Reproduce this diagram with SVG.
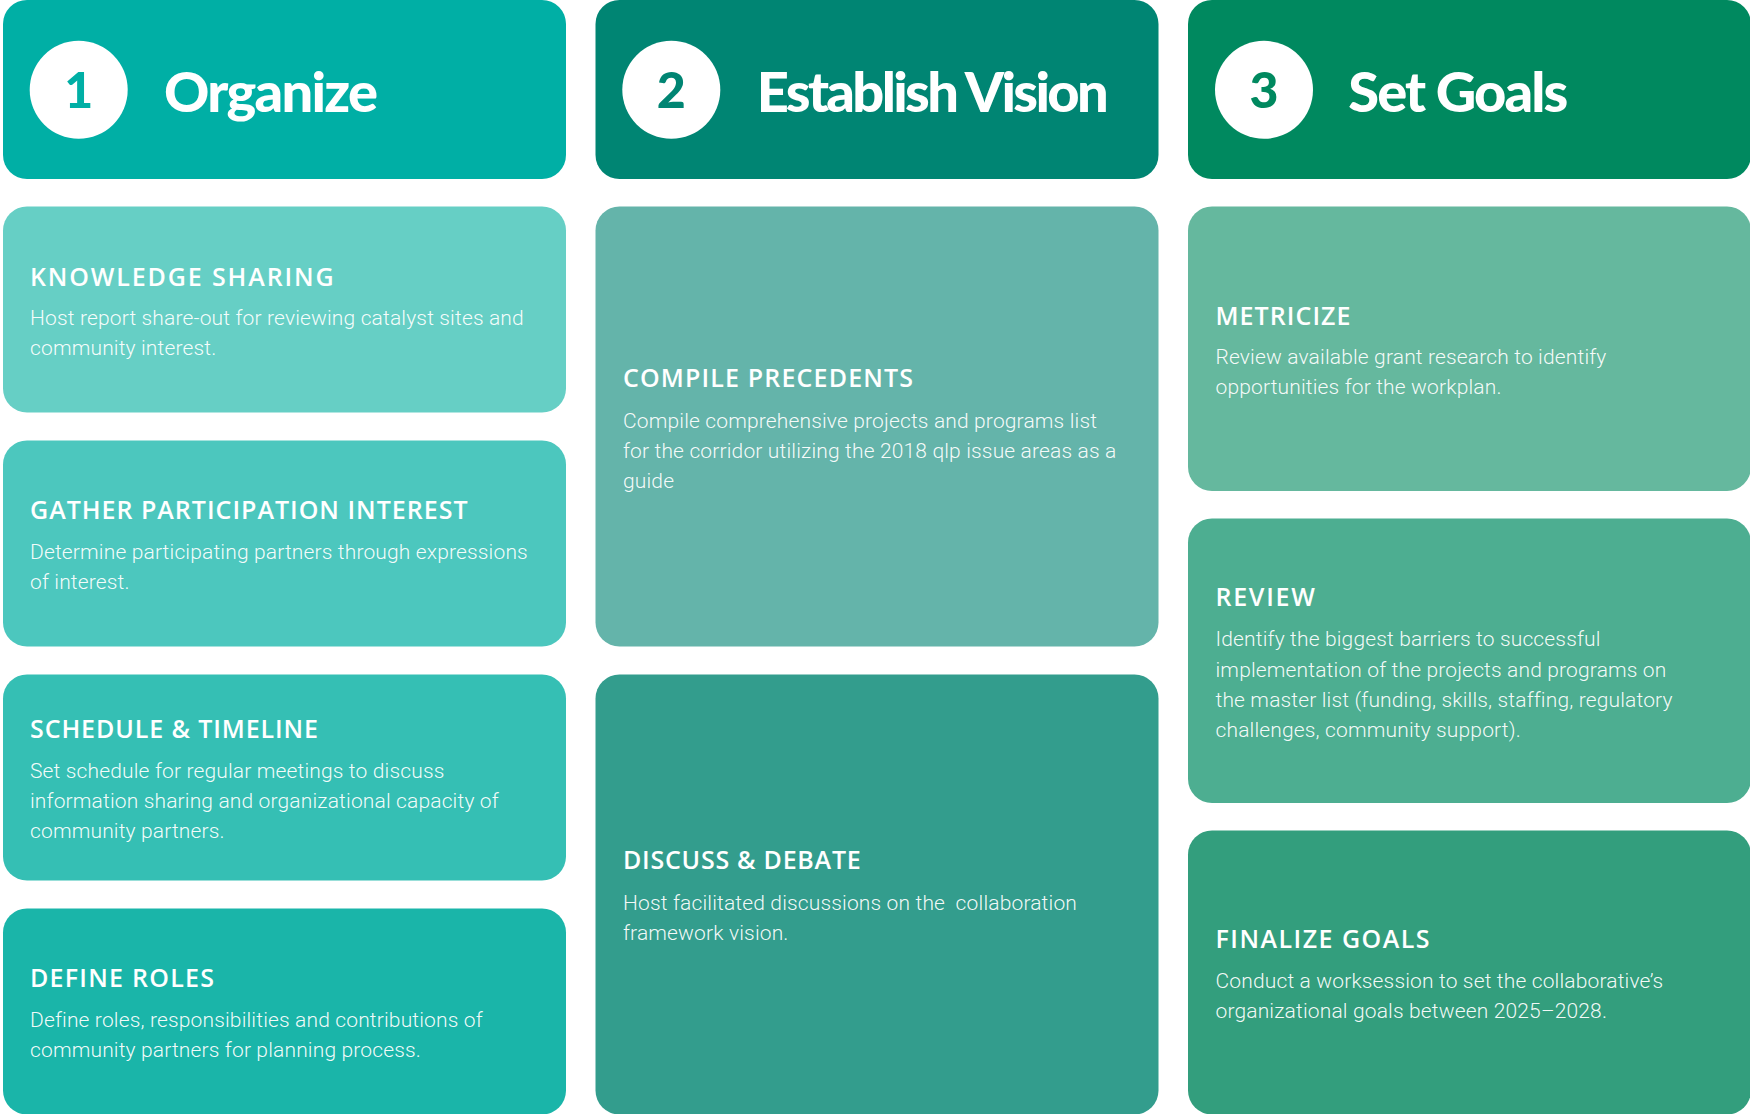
<svg xmlns="http://www.w3.org/2000/svg" width="1750" height="1114" viewBox="0 0 1750 1114">
<style>
.hdr{font-family:"Lato","DejaVu Sans",sans-serif;font-weight:900;font-size:56px;fill:#ffffff}
.num{font-family:"Lato","DejaVu Sans",sans-serif;font-weight:900;font-size:50px;text-anchor:middle}
.ttl{font-family:"Open Sans","DejaVu Sans",sans-serif;font-weight:600;font-size:25px;fill:#ffffff}
.body{font-family:"Roboto","Liberation Sans",sans-serif;font-weight:300;font-size:21px;letter-spacing:0.15px;fill:#ffffff;fill-opacity:0.95}
</style>
<rect width="1750" height="1114" fill="#ffffff"/>
<g id="header-1">
<rect x="3" y="0" width="563" height="179" rx="24" fill="#00AFA5"/>
<circle cx="78.7" cy="89.8" r="49" fill="#ffffff"/>
<text class="num" x="78.7" y="108" fill="#00AFA5">1</text>
<text class="hdr" x="164" y="111.6" textLength="214">Organize</text>
</g>
<g id="header-2">
<rect x="595.5" y="0" width="563" height="179" rx="24" fill="#008573"/>
<circle cx="671.3" cy="89.8" r="49" fill="#ffffff"/>
<text class="num" x="671.3" y="108" fill="#008573">2</text>
<text class="hdr" x="756.7" y="111.6" textLength="352">Establish Vision</text>
</g>
<g id="header-3">
<rect x="1188" y="0" width="563" height="179" rx="24" fill="#00895F"/>
<circle cx="1264" cy="89.8" r="49" fill="#ffffff"/>
<text class="num" x="1264" y="108" fill="#00895F">3</text>
<text class="hdr" x="1348.3" y="111.6" textLength="220">Set Goals</text>
</g>
<g id="knowledge-sharing">
<rect x="3" y="206.5" width="563" height="206" rx="24" fill="#66CFC5"/>
<text class="ttl" x="30" y="285.5" textLength="303.6">KNOWLEDGE SHARING</text>
<text class="body" x="30" y="325">Host report share-out for reviewing catalyst sites and</text>
<text class="body" x="30" y="355">community interest.</text>
</g>
<g id="gather-participation-interest">
<rect x="3" y="440.5" width="563" height="206" rx="24" fill="#4CC7BE"/>
<text class="ttl" x="30" y="519" textLength="437.5">GATHER PARTICIPATION INTEREST</text>
<text class="body" x="30" y="559.3">Determine participating partners through expressions</text>
<text class="body" x="30" y="589.4">of interest.</text>
</g>
<g id="schedule-timeline">
<rect x="3" y="674.5" width="563" height="206" rx="24" fill="#35BFB4"/>
<text class="ttl" x="30" y="737.7" textLength="288">SCHEDULE &amp; TIMELINE</text>
<text class="body" x="30" y="778">Set schedule for regular meetings to discuss</text>
<text class="body" x="30" y="808.2">information sharing and organizational capacity of</text>
<text class="body" x="30" y="838.3">community partners.</text>
</g>
<g id="define-roles">
<rect x="3" y="908.5" width="563" height="206" rx="24" fill="#1AB5A9"/>
<text class="ttl" x="30" y="986.6" textLength="184">DEFINE ROLES</text>
<text class="body" x="30" y="1027">Define roles, responsibilities and contributions of</text>
<text class="body" x="30" y="1057">community partners for planning process.</text>
</g>
<g id="compile-precedents">
<rect x="595.5" y="206.5" width="563" height="440" rx="24" fill="#64B4AA"/>
<text class="ttl" x="623" y="387.3" textLength="290">COMPILE PRECEDENTS</text>
<text class="body" x="623" y="427.6">Compile comprehensive projects and programs list</text>
<text class="body" x="623" y="457.7">for the corridor utilizing the 2018 qlp issue areas as a</text>
<text class="body" x="623" y="487.9">guide</text>
</g>
<g id="discuss-debate">
<rect x="595.5" y="674.5" width="563" height="440" rx="24" fill="#339D8D"/>
<text class="ttl" x="623" y="869.4" textLength="237.7">DISCUSS &amp; DEBATE</text>
<text class="body" x="623" y="909.7" xml:space="preserve">Host facilitated discussions on the  collaboration</text>
<text class="body" x="623" y="939.9">framework vision.</text>
</g>
<g id="metricize">
<rect x="1188" y="206.5" width="563" height="284.5" rx="24" fill="#65B89E"/>
<text class="ttl" x="1215.5" y="324.8" textLength="135">METRICIZE</text>
<text class="body" x="1215.5" y="364">Review available grant research to identify</text>
<text class="body" x="1215.5" y="394">opportunities for the workplan.</text>
</g>
<g id="review">
<rect x="1188" y="518.5" width="563" height="284.5" rx="24" fill="#4DAE91"/>
<text class="ttl" x="1215.5" y="606" textLength="99.3">REVIEW</text>
<text class="body" x="1215.5" y="646.3">Identify the biggest barriers to successful</text>
<text class="body" x="1215.5" y="676.5">implementation of the projects and programs on</text>
<text class="body" x="1215.5" y="706.6">the master list (funding, skills, staffing, regulatory</text>
<text class="body" x="1215.5" y="736.7">challenges, community support).</text>
</g>
<g id="finalize-goals">
<rect x="1188" y="830.5" width="563" height="284" rx="24" fill="#339E7D"/>
<text class="ttl" x="1215.5" y="947.6" textLength="214">FINALIZE GOALS</text>
<text class="body" x="1215.5" y="987.9">Conduct a worksession to set the collaborative’s</text>
<text class="body" x="1215.5" y="1018">organizational goals between 2025–2028.</text>
</g>
<g id="connectors"></g>
</svg>
